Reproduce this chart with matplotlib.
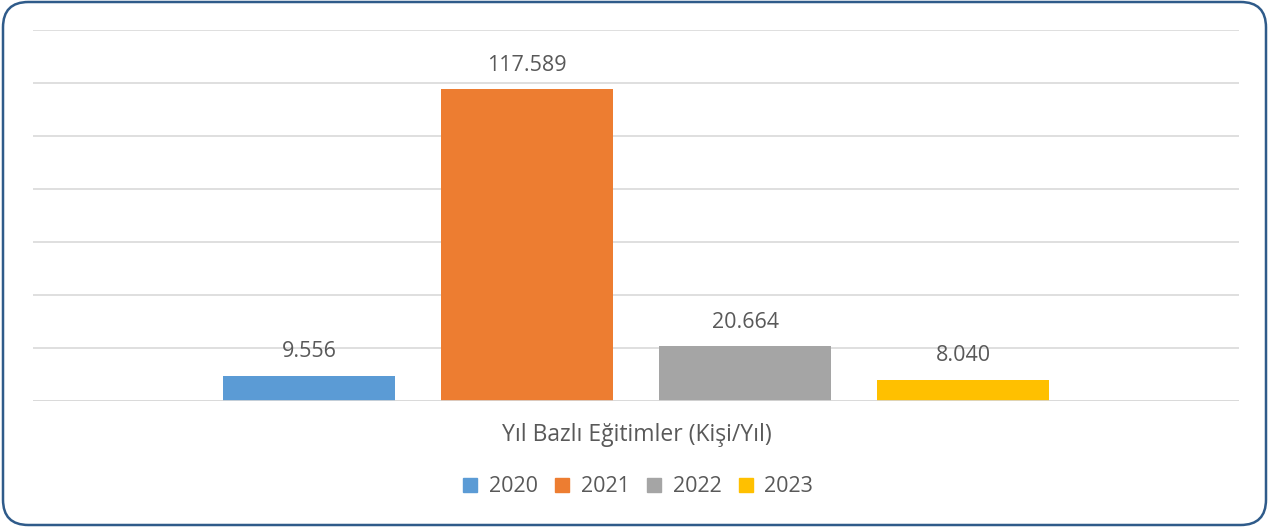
import matplotlib.pyplot as plt
from matplotlib.patches import FancyBboxPatch

plt.rcParams['font.family'] = ['Open Sans', 'DejaVu Sans']

# data
years = ['2020', '2021', '2022', '2023']
values = [9556, 117589, 20664, 8040]
labels = ['9.556', '117.589', '20.664', '8.040']
colors = ['#5b9bd5', '#ed7d31', '#a5a5a5', '#ffc000']
title = 'Yıl Bazlı Eğitimler (Kişi/Yıl)'

fig = plt.figure(figsize=(12.69, 5.30), dpi=100)

# rounded frame
frame = FancyBboxPatch((3 / 1269, 5 / 530), 1263 / 1269, 523 / 530,
                       boxstyle='round,pad=0,rounding_size=0.02',
                       transform=fig.transFigure, fill=False,
                       edgecolor='#2f5b8a', linewidth=1.8,
                       mutation_aspect=1269 / 530)
fig.patches.append(frame)

ax = fig.add_axes([33 / 1269, 129 / 530, 1206 / 1269, 371 / 530])

xs = range(len(years))
bars = ax.bar(xs, values, width=0.79, color=colors, zorder=3)

for b, lab in zip(bars, labels):
    ax.text(b.get_x() + b.get_width() / 2, b.get_height() + 5000, lab,
            ha='center', va='bottom', fontsize=15.5, color='#595959')

ax.set_xlim(-1.265, 4.265)
ax.set_ylim(0, 140000)
ax.set_yticks(range(0, 140001, 20000))
ax.yaxis.grid(True, color='#d9d9d9', linewidth=1.2, zorder=0)
ax.axhline(0, color='#d9d9d9', linewidth=1.2, zorder=4)
ax.set_xticks([])
ax.tick_params(left=False, labelleft=False)
for s in ax.spines.values():
    s.set_visible(False)

fig.text(637 / 1269, 1 - 435 / 530, title, ha='center', va='center',
         fontsize=16.5, color='#595959')

handles = [plt.Rectangle((0, 0), 1, 1, color=c) for c in colors]
fig.legend(handles, years, loc='center', bbox_to_anchor=(638 / 1269, 1 - 487 / 530),
           ncol=4, frameon=False, fontsize=15.5, labelcolor='#595959',
           handlelength=0.65, handleheight=0.65, handletextpad=0.55,
           columnspacing=0.8)

fig.savefig('out.png', dpi=100)
